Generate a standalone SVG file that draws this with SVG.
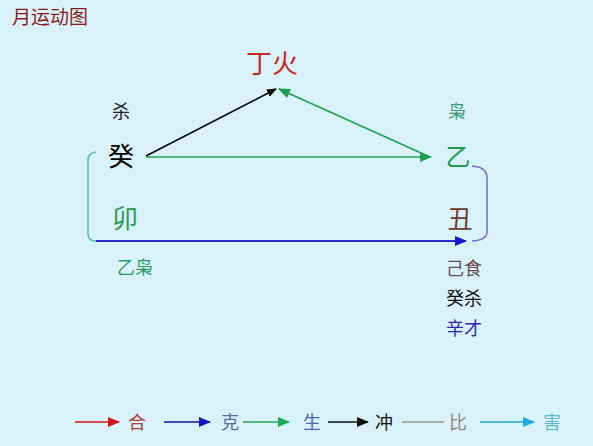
<svg xmlns="http://www.w3.org/2000/svg" width="593" height="446" viewBox="0 0 593 446">
<defs>
<style>
text{font-family:"Noto Sans CJK SC","Noto Sans CJK JP",sans-serif;}
.big{font-size:25px;}
.mid{font-size:18px;}
</style>
<marker id="aBlack" markerWidth="10" markerHeight="8" refX="9" refY="4" orient="auto" markerUnits="userSpaceOnUse"><path d="M0,0 L10,4 L0,8 Z" fill="#000"/></marker>
<marker id="aGreen" markerWidth="12" markerHeight="10" refX="11" refY="5" orient="auto" markerUnits="userSpaceOnUse"><path d="M0,0 L12,5 L0,10 Z" fill="#1fa050"/></marker>
<marker id="aBlue" markerWidth="12" markerHeight="10" refX="11" refY="5" orient="auto" markerUnits="userSpaceOnUse"><path d="M0,0 L12,5 L0,10 Z" fill="#1414d0"/></marker>
<marker id="lRed" markerWidth="12" markerHeight="10" refX="11" refY="5" orient="auto" markerUnits="userSpaceOnUse"><path d="M0,0 L12,5 L0,10 Z" fill="#d01818"/></marker>
<marker id="lBlue" markerWidth="12" markerHeight="10" refX="11" refY="5" orient="auto" markerUnits="userSpaceOnUse"><path d="M0,0 L12,5 L0,10 Z" fill="#1414c8"/></marker>
<marker id="lGreen" markerWidth="12" markerHeight="10" refX="11" refY="5" orient="auto" markerUnits="userSpaceOnUse"><path d="M0,0 L12,5 L0,10 Z" fill="#20a858"/></marker>
<marker id="lBlack" markerWidth="12" markerHeight="10" refX="11" refY="5" orient="auto" markerUnits="userSpaceOnUse"><path d="M0,0 L12,5 L0,10 Z" fill="#111"/></marker>
<marker id="lCyan" markerWidth="12" markerHeight="10" refX="11" refY="5" orient="auto" markerUnits="userSpaceOnUse"><path d="M0,0 L12,5 L0,10 Z" fill="#20a8e0"/></marker>
</defs>
<rect width="593" height="446" fill="#d9f2fa"/>
<text x="12" y="24" font-size="19" fill="#8b1a1a">月运动图</text>

<g id="connectors" fill="none">
<line x1="146" y1="156" x2="276" y2="89" stroke="#000" stroke-width="1.5" marker-end="url(#aBlack)"/>
<line x1="430" y1="157" x2="279" y2="89" stroke="#1fa050" stroke-width="1.5" marker-end="url(#aGreen)"/>
<line x1="146" y1="157" x2="431" y2="157" stroke="#1fa050" stroke-width="1.5" marker-end="url(#aGreen)"/>
<path d="M472,166 Q487,167 487,178 L487,232 Q487,240 472,241" stroke="#6a6ad0" stroke-width="1.5"/>
<path d="M96,152 Q88,153 88,160 L88,234 Q88,241 96,241" stroke="#5ab89a" stroke-width="1.5"/>
<line x1="96" y1="241" x2="466" y2="241" stroke="#2a2ad0" stroke-width="2" marker-end="url(#aBlue)"/>
</g>

<g id="node-dinghuo"><text x="272" y="73" text-anchor="middle" font-size="26" fill="#c8282a">丁火</text></g>
<g id="node-gui">
<text x="121" y="118" text-anchor="middle" class="mid" fill="#222">杀</text>
<text x="121" y="166" text-anchor="middle" font-size="26" fill="#000">癸</text>
</g>
<g id="node-yi">
<text x="457" y="118" text-anchor="middle" class="mid" fill="#3a9a6a">枭</text>
<text x="458" y="166" text-anchor="middle" class="big" fill="#1f9a50">乙</text>
</g>
<g id="node-mao">
<text x="125" y="228" text-anchor="middle" font-size="26" fill="#2a9a50">卯</text>
<text x="135" y="274" text-anchor="middle" class="mid" fill="#2a9a60">乙枭</text>
</g>
<g id="node-chou">
<text x="460" y="228" text-anchor="middle" class="big" fill="#6b3a2a">丑</text>
<text x="464" y="275" text-anchor="middle" class="mid" fill="#6a4a4a">己食</text>
<text x="464" y="305" text-anchor="middle" class="mid" fill="#111">癸杀</text>
<text x="464" y="335" text-anchor="middle" class="mid" fill="#2a2ab0">辛才</text>
</g>

<g id="legend">
<line x1="75" y1="422" x2="119" y2="422" stroke="#d01818" stroke-width="1.5" marker-end="url(#lRed)"/>
<text x="128" y="429" font-size="18" fill="#b04040">合</text>
<line x1="164" y1="422" x2="210" y2="422" stroke="#1414a0" stroke-width="1.5" marker-end="url(#lBlue)"/>
<text x="221" y="429" font-size="18" fill="#5a6aa0">克</text>
<line x1="243" y1="422" x2="289" y2="422" stroke="#20a858" stroke-width="1.5" marker-end="url(#lGreen)"/>
<text x="303" y="429" font-size="18" fill="#4a6ab0">生</text>
<line x1="328" y1="422" x2="368" y2="422" stroke="#111" stroke-width="1.5" marker-end="url(#lBlack)"/>
<text x="375" y="429" font-size="18" fill="#111">冲</text>
<line x1="402" y1="422" x2="444" y2="422" stroke="#a09a8a" stroke-width="1.5"/>
<text x="449" y="429" font-size="18" fill="#8a8a7a">比</text>
<line x1="480" y1="422" x2="534" y2="422" stroke="#20a8e0" stroke-width="1.5" marker-end="url(#lCyan)"/>
<text x="543" y="429" font-size="18" fill="#60b8d8">害</text>
</g>
</svg>
